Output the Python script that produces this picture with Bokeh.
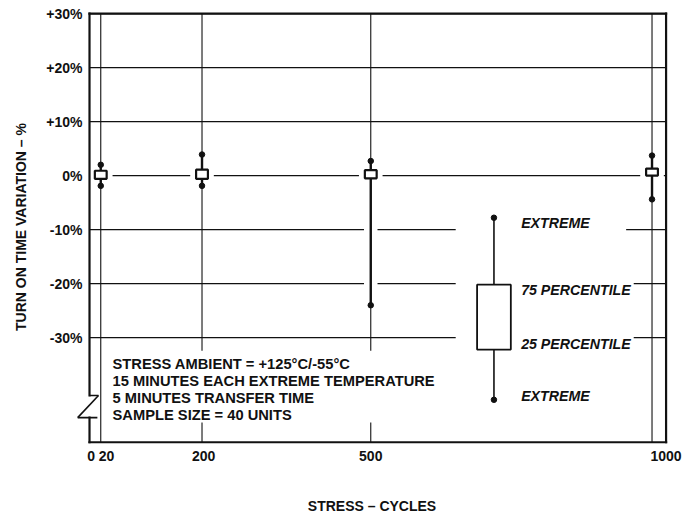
from bokeh.plotting import figure
from bokeh.models import Range1d, FixedTicker, ColumnDataSource, Arrow
from bokeh.core.properties import value
from bokeh.embed import file_html
from bokeh.resources import INLINE

# ---------------- data ----------------
cycles = [20, 200, 500, 1000]
x_tick_labels = ["0 20", "200", "500", "1000"]
x_label_pos = [20, 203, 500, 1025]          # where each label is printed
extreme_low = [-1.9, -1.9, -24.0, -4.4]
pct25 = [-0.6, -0.6, -0.5, 0.0]
pct75 = [0.9, 1.1, 1.0, 1.3]
extreme_high = [2.0, 3.9, 2.7, 3.7]

y_ticks = [30, 20, 10, 0, -10, -20, -30]
y_tick_labels = ["+30%", "+20%", "+10%", "0%", "-10%", "-20%", "-30%"]

# legend key (illustrative box)
legend_x = 719
legend_stats = [-7.8, -20.2, -32.2, -41.5]          # extreme, 75 pct, 25 pct, extreme
legend_labels = ["EXTREME", "75 PERCENTILE", "25 PERCENTILE", "EXTREME"]
legend_label_offsets = [5, 5, -6, -4]

notes = [
    "STRESS AMBIENT = +125°C/-55°C",
    "15 MINUTES EACH EXTREME TEMPERATURE",
    "5 MINUTES TRANSFER TIME",
    "SAMPLE SIZE = 40 UNITS",
]

# chart box (drawn frame) and axis break
X0, X1 = 0, 1025
Y0, Y1 = -49.4, 30
BREAK = (-40.7, -44.8)

FONT = "Liberation Sans"
INK = "#111111"

# ---------------- figure ----------------
p = figure(width=695, height=516,
           x_range=Range1d(-24.9, 1029.3), y_range=Range1d(-49.59, 30.56),
           output_backend="svg", toolbar_location=None,
           min_border_left=75, min_border_right=27, min_border_top=10, min_border_bottom=73)
p.outline_line_color = None
p.background_fill_color = "white"
p.border_fill_color = "white"
p.xgrid.visible = False
p.ygrid.visible = False

# axes
for ax in (p.xaxis[0], p.yaxis[0]):
    ax.axis_line_color = None
    ax.major_tick_line_color = None
    ax.minor_tick_line_color = None
    ax.major_label_text_font = FONT
    ax.major_label_text_font_style = "bold"
    ax.major_label_text_color = INK
    ax.major_label_text_font_size = "14px"
    ax.axis_label_text_font = FONT
    ax.axis_label_text_font_style = "bold"
    ax.axis_label_text_color = INK
    ax.axis_label_text_font_size = "14px"

p.xaxis.ticker = FixedTicker(ticks=x_label_pos)
p.xaxis.major_label_overrides = dict(zip(x_label_pos, x_tick_labels))
p.xaxis.major_label_standoff = -2
p.xaxis.axis_label = "STRESS – CYCLES"
p.xaxis.axis_label_standoff = 31

p.yaxis.ticker = FixedTicker(ticks=y_ticks)
p.yaxis.major_label_overrides = dict(zip(y_ticks, y_tick_labels))
p.yaxis.major_label_standoff = -13
p.yaxis.axis_label = "TURN ON TIME VARIATION – %"
p.yaxis.axis_label_standoff = 14

# ---------------- grid ----------------
p.segment(x0=[X0] * len(y_ticks), y0=y_ticks, x1=[X1] * len(y_ticks), y1=y_ticks,
          line_color=INK, line_width=1.2)
p.segment(x0=cycles, y0=[Y0] * len(cycles), x1=cycles, y1=[Y1] * len(cycles),
          line_color=INK, line_width=1.1)

# ---------------- box plots ----------------
half_box = 10.5      # box half-width (data units)
mask_box = 21        # white gap around boxes
mask_whisk = 12      # white gap around whiskers

p.quad(left=[c - mask_whisk for c in cycles], right=[c + mask_whisk for c in cycles],
       top=extreme_high, bottom=extreme_low, fill_color="white", line_color=None)
p.quad(left=[c - mask_box for c in cycles], right=[c + mask_box for c in cycles],
       top=[v + 0.4 for v in pct75], bottom=[v - 0.4 for v in pct25],
       fill_color="white", line_color=None)

p.segment(x0=cycles, y0=extreme_low, x1=cycles, y1=pct25, line_color=INK, line_width=2.4)
p.segment(x0=cycles, y0=pct75, x1=cycles, y1=extreme_high, line_color=INK, line_width=2.4)
p.quad(left=[c - half_box for c in cycles], right=[c + half_box for c in cycles],
       top=pct75, bottom=pct25, fill_color="white", line_color=INK, line_width=2.2)
p.scatter(x=cycles + cycles, y=extreme_low + extreme_high, size=5.5,
          fill_color=INK, line_color=INK)

# ---------------- notes block ----------------
p.quad(left=[31], right=[509], top=[-32.4], bottom=[-45.7], fill_color="white", line_color=None)
p.text(x=[41] * len(notes), y=[-34.8 - 3.15 * i for i in range(len(notes))], text=notes,
       text_font=value(FONT), text_font_style="bold", text_font_size="14.7px",
       text_color=INK, text_baseline="middle", text_align="left")

# ---------------- legend key ----------------
p.quad(left=[651], right=[954], top=[-4], bottom=[-47.5], fill_color="white", line_color=None)
lo, q1, q3, hi = legend_stats[3], legend_stats[2], legend_stats[1], legend_stats[0]
p.segment(x0=[legend_x, legend_x], y0=[hi, q1], x1=[legend_x, legend_x], y1=[q3, lo],
          line_color=INK, line_width=1.6)
p.quad(left=[legend_x - 30], right=[legend_x + 30], top=[q3], bottom=[q1],
       fill_color="white", line_color=INK, line_width=1.8)
p.scatter(x=[legend_x, legend_x], y=[hi, lo], size=5.5, fill_color=INK, line_color=INK)
leg_src = ColumnDataSource(dict(x=[762] * 4, y=legend_stats, t=legend_labels,
                                off=legend_label_offsets))
p.text(x="x", y="y", text="t", y_offset="off", source=leg_src,
       text_font=value(FONT), text_font_style="bold italic", text_font_size="14.2px",
       text_color=INK, text_baseline="middle", text_align="left",
       background_fill_color="white", padding=3)

# ---------------- frame with axis break ----------------
frame = ColumnDataSource(dict(
    x0=[X0, X1, X0, X0, X0],
    y0=[Y1, Y1, Y0, Y1, BREAK[1]],
    x1=[X1, X1, X1, X0, X0],
    y1=[Y1, Y0, Y0, BREAK[0], Y0],
))
p.add_layout(Arrow(x_start="x0", y_start="y0", x_end="x1", y_end="y1", source=frame,
                   end=None, line_color=INK, line_width=2.2, line_cap="square"))
zig = ColumnDataSource(dict(
    x0=[X0, 16, -21],
    y0=[BREAK[0], BREAK[0], BREAK[1]],
    x1=[16, -21, 14],
    y1=[BREAK[0], BREAK[1], BREAK[1]],
))
p.add_layout(Arrow(x_start="x0", y_start="y0", x_end="x1", y_end="y1", source=zig,
                   end=None, line_color=INK, line_width=1.6))

open("out.html", "w").write(file_html(p, INLINE))
